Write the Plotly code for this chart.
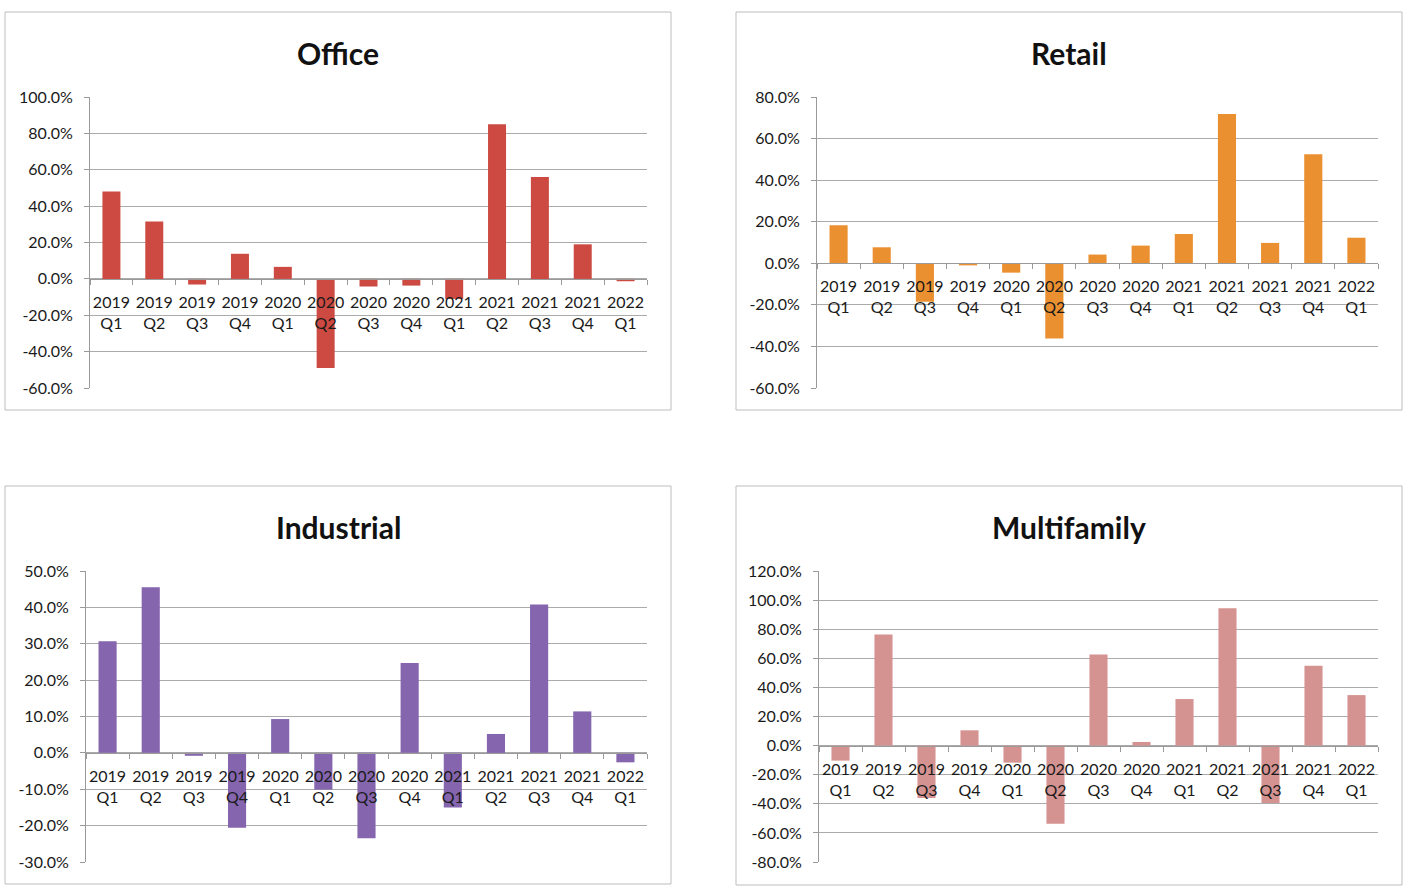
import plotly.graph_objects as go

quarters = ["2019<br>Q1", "2019<br>Q2", "2019<br>Q3", "2019<br>Q4",
            "2020<br>Q1", "2020<br>Q2", "2020<br>Q3", "2020<br>Q4",
            "2021<br>Q1", "2021<br>Q2", "2021<br>Q3", "2021<br>Q4",
            "2022<br>Q1"]

office = [48.0, 31.5, -3.1, 13.8, 6.6, -49.0, -4.2, -3.7, -11.0, 85.0, 56.0, 19.0, -1.3]
retail = [18.3, 7.7, -18.5, -1.0, -4.5, -36.2, 4.2, 8.5, 14.1, 71.8, 9.8, 52.4, 12.3]
industrial = [30.7, 45.5, -0.8, -20.6, 9.3, -10.1, -23.5, 24.7, -15.0, 5.2, 40.8, 11.4, -2.6]
multifamily = [-10.3, 76.3, -36.0, 10.5, -11.7, -53.7, 62.6, 2.5, 32.0, 94.4, -39.5, 54.9, 34.7]

office_ticks = [-60, -40, -20, 0, 20, 40, 60, 80, 100]
retail_ticks = [-60, -40, -20, 0, 20, 40, 60, 80]
industrial_ticks = [-30, -20, -10, 0, 10, 20, 30, 40, 50]
multifamily_ticks = [-80, -60, -40, -20, 0, 20, 40, 60, 80, 100, 120]

W, H = 1413, 895
FONT = "Lato, 'Open Sans', sans-serif"


def px_x(p):
    return p / W


def px_y(p):
    return 1 - p / H


panels = [
    # name, values, ticks, color, plot px box (left, right, top, bottom), frame px box, title center
    ("Office", office, office_ticks, "#cc4a42", (90, 647, 97, 388), (5, 671, 12, 410), (338, 53)),
    ("Retail", retail, retail_ticks, "#ea9030", (817, 1378, 97, 388), (736, 1402, 12, 410), (1069, 53)),
    ("Industrial", industrial, industrial_ticks, "#8465ae", (86, 647, 571, 862), (5, 671, 486, 884), (338, 527)),
    ("Multifamily", multifamily, multifamily_ticks, "#d49290", (819, 1378, 571, 862), (736, 1402, 486, 885), (1069, 527)),
]

fig = go.Figure()
shapes = []
annotations = []
layout_axes = {}

for i, (name, vals, ticks, color, box, frame, tc) in enumerate(panels, start=1):
    xa = "x" if i == 1 else f"x{i}"
    ya = "y" if i == 1 else f"y{i}"
    fig.add_trace(go.Bar(
        x=quarters, y=vals, xaxis=xa, yaxis=ya,
        marker=dict(color=color, line=dict(width=0)),
        showlegend=False, hoverinfo="x+y",
    ))
    l, r, t, b = box
    ydom = [px_y(b), px_y(t)]
    ymin, ymax = ticks[0], ticks[-1]
    zero_pos = ydom[0] + (0 - ymin) / (ymax - ymin) * (ydom[1] - ydom[0])
    layout_axes["xaxis" if i == 1 else f"xaxis{i}"] = dict(
        domain=[px_x(l), px_x(r)],
        anchor="free", position=zero_pos,
        type="category",
        automargin=False,
        showline=True, linecolor="#9a9a9a", linewidth=1,
        ticks="outside", tickson="boundaries", ticklen=5, tickcolor="#9a9a9a",
        showgrid=False,
        tickfont=dict(family=FONT, size=16, color="#1a1a1a"),
        ticklabelstandoff=9,
        tickangle=0,
        fixedrange=True,
    )
    layout_axes["yaxis" if i == 1 else f"yaxis{i}"] = dict(
        domain=ydom,
        anchor=xa,
        automargin=False,
        range=[ymin, ymax],
        tickvals=ticks,
        ticktext=[f"{v:.1f}%" for v in ticks],
        showline=True, linecolor="#9a9a9a", linewidth=1,
        ticks="outside", ticklen=5, tickcolor="#9a9a9a",
        showgrid=True, gridcolor="#ababab", gridwidth=1,
        zeroline=False,
        tickfont=dict(family=FONT, size=16, color="#1a1a1a"),
        ticklabelstandoff=8,
        fixedrange=True,
    )
    fl, fr, ft, fb = frame
    shapes.append(dict(type="rect", xref="paper", yref="paper",
                       x0=px_x(fl), x1=px_x(fr), y0=px_y(fb), y1=px_y(ft),
                       line=dict(color="#bdbdbd", width=1), layer="below"))
    annotations.append(dict(text=f"<b>{name}</b>", xref="paper", yref="paper",
                            x=px_x(tc[0]), y=px_y(tc[1]), xanchor="center", yanchor="middle",
                            showarrow=False, font=dict(family=FONT, size=30, color="#111111")))

fig.update_layout(
    width=W, height=H,
    margin=dict(l=0, r=0, t=0, b=0, autoexpand=False),
    paper_bgcolor="white", plot_bgcolor="white",
    bargap=0.58,
    shapes=shapes,
    annotations=annotations,
    **layout_axes,
)

fig.write_html("out.html")
